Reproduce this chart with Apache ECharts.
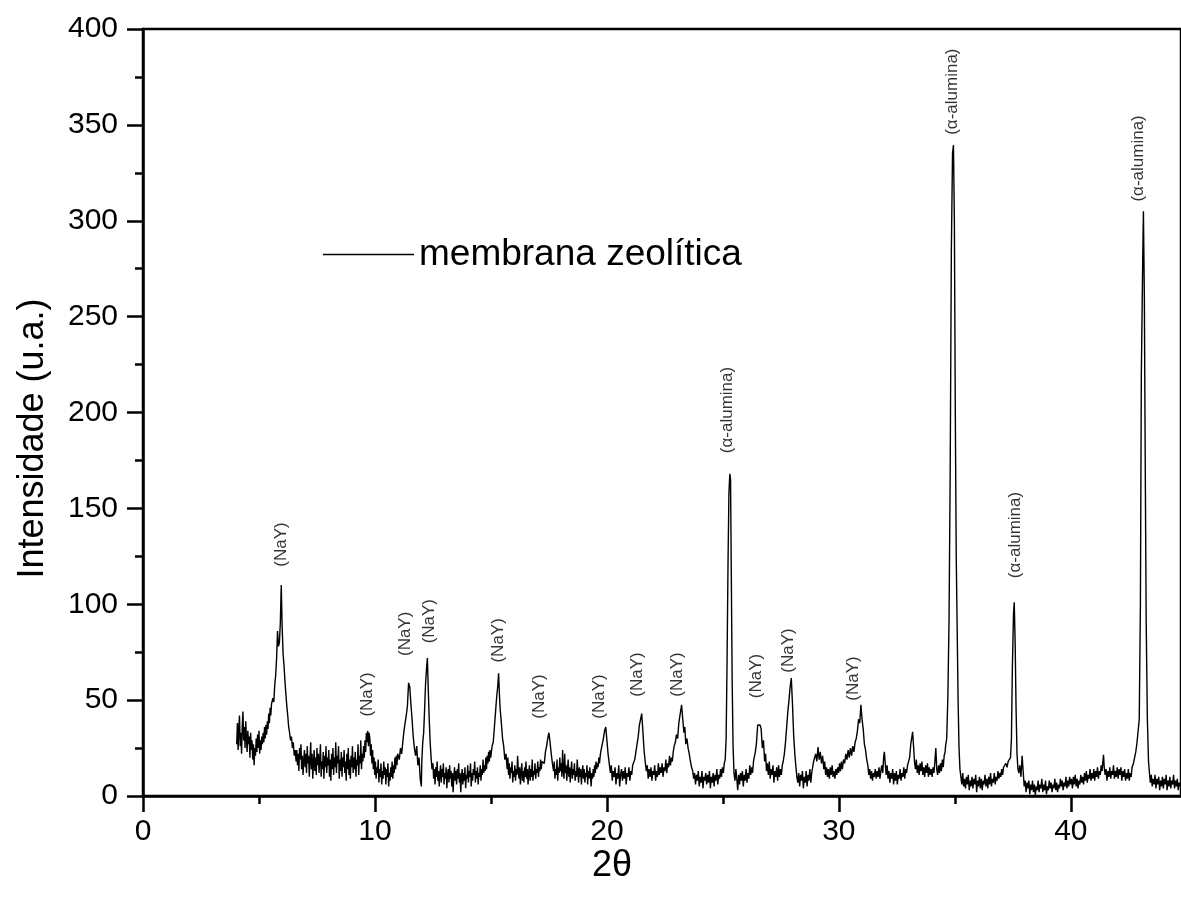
<!DOCTYPE html>
<html>
<head>
<meta charset="utf-8">
<script src="https://cdn.jsdelivr.net/npm/echarts@6/dist/echarts.min.js"></script>
<style>
html,body{margin:0;padding:0;background:#fff;}
#chart{width:1181px;height:906px;}
</style>
</head>
<body>
<div id="chart"></div>
<script>
const seriesName = 'membrana zeolítica';
const xTickValues = [0, 10, 20, 30, 40];
const xMinorTickValues = [5, 15, 25, 35];

const pattern4to12 = [
[4.04,27],[4.07,38],[4.1,24],[4.13,35],[4.16,42],[4.19,26],[4.22,33],[4.25,22],[4.28,37],[4.31,44],[4.34,29],[4.37,36],[4.4,25],[4.43,39],[4.46,30],[4.49,23],[4.52,34],[4.55,27],[4.58,31],[4.61,20],[4.64,33],[4.67,24],[4.7,29],[4.73,19],[4.76,27],[4.79,16],[4.82,25],[4.85,21],[4.88,30],[4.91,23],[4.94,32],[4.97,25],[5.0,34],[5.03,22],[5.06,29],[5.09,24],[5.12,31],[5.15,27],[5.18,33],[5.21,28],[5.24,36],[5.27,30],[5.3,37],[5.33,32],[5.36,39],[5.39,35],[5.42,43],[5.45,38],[5.48,46],[5.51,42],[5.54,48],
[5.6,51],[5.64,49],[5.68,58],[5.72,63],[5.76,72],[5.8,86],[5.84,78],[5.88,80],[5.92,90],[5.96,110],[6.0,88],[6.04,74],[6.08,68],[6.12,60],[6.16,53],[6.2,47],[6.24,42],[6.28,36],[6.32,33],[6.36,29],[6.4,31],[6.44,25],[6.48,28],[6.52,21],[6.56,24],
[6.6,18],[6.63,24],[6.66,16],[6.69,22],[6.72,13],[6.75,25],[6.78,19],[6.81,27],[6.84,14],[6.87,21],[6.9,11],[6.93,19],[6.96,24],[6.99,15],[7.02,22],[7.05,12],[7.08,26],[7.11,17],[7.14,21],[7.17,10],[7.2,19],[7.23,28],[7.26,14],[7.29,22],[7.32,9],[7.35,18],[7.38,24],[7.41,13],[7.44,20],[7.47,11],[7.5,25],[7.53,16],[7.56,22],[7.59,12],[7.62,19],[7.65,27],[7.68,10],[7.71,18],[7.74,14],[7.77,23],[7.8,9],[7.83,21],[7.86,15],[7.89,26],[7.92,12],[7.95,20],[7.98,16],[8.01,24],[8.04,10],[8.07,19],[8.1,8],[8.13,22],[8.16,14],[8.19,25],[8.22,11],[8.25,20],[8.28,15],[8.31,28],[8.34,12],[8.37,21],[8.4,17],[8.43,26],[8.46,9],[8.49,19],[8.52,13],[8.55,23],[8.58,10],[8.61,20],[8.64,15],[8.67,24],[8.7,12],[8.73,18],[8.76,8],[8.79,22],[8.82,14],[8.85,25],[8.88,11],[8.91,19],[8.94,9],[8.97,21],[9.0,15],[9.03,26],[9.06,12],[9.09,20],[9.12,14],[9.15,23],[9.18,10],[9.21,19],[9.24,16],[9.27,27],[9.3,11],[9.33,21],[9.36,17],[9.39,29],[9.42,14],[9.45,22],[9.48,18],[9.51,26],[9.54,20],[9.57,29],[9.6,23],[9.63,33],[9.66,28],[9.69,34],[9.72,26],[9.75,33],[9.78,30],[9.81,21],[9.84,27],[9.87,17],[9.9,24],[9.93,14],[9.96,20],
[9.99,11],[10.02,18],[10.05,9],[10.08,15],[10.11,12],[10.14,19],[10.17,7],[10.2,14],[10.23,10],[10.26,17],[10.29,6],[10.32,13],[10.35,9],[10.38,18],[10.41,11],[10.44,15],[10.47,6],[10.5,14],[10.53,10],[10.56,17],[10.59,5],[10.62,12],[10.65,8],[10.68,15],[10.71,10],[10.74,18],[10.77,9],[10.8,16],[10.83,12],[10.86,20],[10.89,14],[10.92,21],[10.95,16],[10.98,22],
[11.0,22],[11.05,19],[11.1,25],[11.15,22],[11.2,28],[11.25,34],[11.3,38],[11.35,42],[11.4,47],[11.45,59],[11.5,57],[11.55,48],[11.6,40],[11.65,31],[11.7,25],[11.75,21],[11.8,26],[11.85,16],[11.9,20],[11.95,9],[12.0,5],[12.02,18],[12.06,28],[12.1,33],[12.14,45],[12.18,58],[12.22,66],[12.26,72],[12.3,55],[12.34,40],[12.38,28],[12.42,20],[12.46,14]
];

const pattern12to20 = [
[12.5,17],[12.53,9],[12.56,14],[12.59,6],[12.62,15],[12.65,10],[12.68,18],[12.71,8],[12.74,13],[12.77,5],[12.8,12],[12.83,16],[12.86,7],[12.89,14],[12.92,10],[12.95,17],[12.98,6],[13.01,12],[13.04,9],[13.07,15],[13.1,4],[13.13,11],[13.16,14],[13.19,7],[13.22,16],[13.25,9],[13.28,13],[13.31,5],[13.34,12],[13.37,2],[13.4,10],[13.43,15],[13.46,8],[13.49,13],[13.52,6],[13.55,14],[13.58,9],[13.61,17],[13.64,7],[13.67,12],[13.7,2],[13.73,10],[13.76,14],[13.79,6],[13.82,12],[13.85,8],[13.88,15],[13.91,4],[13.94,11],[13.97,9],[14.0,16],[14.03,7],[14.06,13],[14.09,10],[14.12,17],[14.15,5],[14.18,12],[14.21,8],[14.24,14],[14.27,11],[14.3,18],[14.33,7],[14.36,13],[14.39,9],[14.42,15],[14.45,6],[14.48,12],[14.51,10],[14.54,16],[14.57,8],[14.6,14],[14.63,11],[14.66,19],[14.69,12],[14.72,16],[14.75,13],[14.78,20],[14.81,14],[14.84,21],[14.87,17],[14.9,23],[14.93,18],[14.96,24],[14.99,20],
[15.05,26],[15.1,28],[15.15,36],[15.2,44],[15.25,52],[15.3,58],[15.33,64],[15.37,52],[15.4,45],[15.45,38],[15.5,30],[15.55,26],[15.6,19],[15.65,22],
[15.7,14],[15.73,20],[15.76,11],[15.79,17],[15.82,9],[15.85,15],[15.88,12],[15.91,18],[15.94,7],[15.97,13],[16.0,10],[16.03,16],[16.06,8],[16.09,14],[16.12,11],[16.15,21],[16.18,13],[16.21,9],[16.24,15],[16.27,6],[16.3,12],[16.33,17],[16.36,8],[16.39,13],[16.42,7],[16.45,15],[16.48,10],[16.51,18],[16.54,9],[16.57,14],[16.6,6],[16.63,12],[16.66,16],[16.69,8],[16.72,14],[16.75,10],[16.78,19],[16.81,8],[16.84,13],[16.87,11],[16.9,17],[16.93,9],[16.96,14],[16.99,12],[17.02,18],[17.05,10],[17.08,15],[17.11,13],[17.14,19],[17.17,14],[17.2,18],
[17.25,19],[17.3,17],[17.35,23],[17.4,26],[17.45,30],[17.5,33],[17.55,28],[17.6,22],[17.65,17],
[17.7,13],[17.73,18],[17.76,9],[17.79,14],[17.82,11],[17.85,19],[17.88,8],[17.91,15],[17.94,12],[17.97,20],[18.0,13],[18.03,17],[18.06,10],[18.09,24],[18.12,14],[18.15,9],[18.18,22],[18.21,12],[18.24,16],[18.27,8],[18.3,14],[18.33,19],[18.36,10],[18.39,15],[18.42,7],[18.45,13],[18.48,18],[18.51,9],[18.54,14],[18.57,11],[18.6,17],[18.63,8],[18.66,13],[18.69,10],[18.72,19],[18.75,12],[18.78,7],[18.81,15],[18.84,10],[18.87,14],[18.9,6],[18.93,12],[18.96,16],[18.99,9],[19.02,14],[19.05,7],[19.08,12],[19.11,10],[19.14,16],[19.17,6],[19.2,13],[19.23,9],[19.26,15],[19.29,11],[19.32,5],[19.35,12],[19.38,9],[19.41,14],[19.44,10],[19.47,16],[19.5,12],[19.53,18],[19.56,14],[19.59,17],[19.62,15],[19.65,20],[19.68,17],
[19.72,22],[19.75,24],[19.8,27],[19.85,30],[19.9,34],[19.95,36],[20.0,29],[20.05,22],[20.1,17]
];

const pattern20to28 = [
[20.15,12],[20.19,16],[20.23,8],[20.27,13],[20.31,10],[20.35,15],[20.39,6],[20.43,12],[20.47,9],[20.51,16],[20.55,5],[20.59,11],[20.63,14],[20.67,8],[20.71,13],[20.75,9],[20.79,15],[20.83,6],[20.87,12],[20.91,10],[20.95,15],[20.99,8],[21.03,13],[21.07,11],[21.11,16],
[21.15,16],[21.2,19],[21.25,23],[21.3,27],[21.35,31],[21.4,37],[21.45,40],[21.5,43],[21.55,34],[21.6,24],[21.65,18],
[21.7,13],[21.74,16],[21.78,9],[21.82,14],[21.86,10],[21.9,15],[21.94,8],[21.98,13],[22.02,11],[22.06,16],[22.1,8],[22.14,13],[22.18,10],[22.22,17],[22.26,11],[22.3,15],[22.34,12],[22.38,17],[22.42,10],[22.46,15],[22.5,13],[22.54,19],[22.58,12],[22.62,17],[22.66,15],[22.7,21],[22.74,16],[22.78,20],[22.82,18],[22.86,23],
[22.9,26],[22.95,28],[23.0,32],[23.05,30],[23.1,38],[23.15,42],[23.22,47.5],[23.27,40],[23.32,33],[23.36,36],[23.4,27],[23.45,30],[23.5,25],[23.55,22],[23.6,18],[23.65,15],
[23.7,13],[23.74,9],[23.78,12],[23.82,6],[23.86,11],[23.9,8],[23.94,13],[23.98,5],[24.02,10],[24.06,7],[24.1,13],[24.14,4],[24.18,10],[24.22,8],[24.26,12],[24.3,6],[24.34,11],[24.38,7],[24.42,13],[24.46,4],[24.5,10],[24.54,7],[24.58,12],[24.62,5],[24.66,11],[24.7,8],[24.74,14],[24.78,6],[24.82,11],[24.86,9],[24.9,14],[24.94,10],[24.98,15],[25.02,12],[25.06,17],[25.1,19],
[25.14,30],[25.18,70],[25.22,120],[25.26,158],[25.3,168],[25.33,165],[25.36,120],[25.4,60],[25.44,25],[25.48,12],
[25.52,8],[25.56,14],[25.6,9],[25.64,3],[25.68,11],[25.72,6],[25.76,12],[25.8,8],[25.84,13],[25.88,5],[25.92,11],[25.96,8],[26.0,14],[26.04,7],[26.08,12],[26.12,9],[26.16,16],[26.2,11],[26.24,15],[26.28,12],[26.32,18],
[26.35,20],[26.4,23],[26.45,28],[26.5,37],[26.55,36],[26.6,37],[26.65,35],[26.7,25],[26.75,29],
[26.8,18],[26.84,22],[26.88,13],[26.92,17],[26.96,11],[27.0,18],[27.04,9],[27.08,14],[27.12,11],[27.16,16],[27.2,7],[27.24,13],[27.28,10],[27.32,15],[27.36,8],[27.4,16],[27.44,10],[27.48,14],[27.52,11],[27.56,16],[27.6,18],
[27.65,22],[27.7,28],[27.75,36],[27.8,44],[27.85,50],[27.9,57],[27.95,61.5],[28.0,48],[28.05,32],[28.1,22]
];

const pattern28to35 = [
[28.15,15],[28.19,10],[28.23,7],[28.27,12],[28.31,5],[28.35,11],[28.39,8],[28.43,13],[28.47,4],[28.51,10],[28.55,7],[28.59,13],[28.63,5],[28.67,11],[28.71,8],[28.75,14],[28.79,7],[28.83,12],[28.87,15],[28.91,18],
[28.95,19],[29.0,22],[29.05,18],[29.1,25.5],[29.15,19],[29.2,23],[29.25,17],[29.3,21],
[29.35,14],[29.39,18],[29.43,11],[29.47,15],[29.51,10],[29.55,14],[29.59,9],[29.63,15],[29.67,11],[29.71,16],[29.75,10],[29.79,13],[29.83,9],[29.87,14],[29.91,11],[29.95,15],[29.99,12],[30.03,17],[30.07,13],[30.11,18],[30.15,14],
[30.2,19],[30.25,17],[30.3,22],[30.35,19],[30.4,24],[30.45,20],[30.5,25],[30.55,21],[30.6,26],[30.65,23],[30.7,28],[30.75,30],[30.8,34],[30.85,40],[30.9,38],[30.95,47.5],[31.0,40],[31.05,35],[31.1,27],[31.15,24],[31.2,19],
[31.25,16],[31.29,11],[31.33,14],[31.37,9],[31.41,13],[31.45,8],[31.49,12],[31.53,10],[31.57,14],[31.61,9],[31.65,13],[31.69,10],[31.73,15],[31.77,9],[31.81,13],[31.85,16],[31.89,12],[31.93,20],[31.96,23],[32.0,17],[32.04,11],[32.08,16],[32.12,9],[32.16,13],[32.2,7],[32.24,12],[32.28,9],[32.32,14],[32.36,6],[32.4,12],[32.44,8],[32.48,13],[32.52,6],[32.56,11],[32.6,9],[32.64,14],[32.68,8],[32.72,12],[32.76,10],[32.8,15],[32.84,9],[32.88,14],[32.92,12],[32.96,16],[33.0,15],
[33.05,20],[33.1,27],[33.15,31],[33.18,33.5],[33.22,26],
[33.26,18],[33.3,14],[33.34,19],[33.38,12],[33.42,16],[33.46,11],[33.5,17],[33.54,13],[33.58,18],[33.62,11],[33.66,15],[33.7,10],[33.74,16],[33.78,12],[33.82,17],[33.86,10],[33.9,15],[33.94,11],[33.98,14],[34.02,10],[34.06,15],[34.1,12],[34.14,18],[34.18,25],[34.22,14],[34.26,11],[34.3,16],[34.34,12],[34.38,17],[34.42,13],[34.46,19],[34.5,15],[34.54,21],[34.58,23],
[34.6,26],[34.65,30],[34.7,52],[34.75,92],[34.8,170],[34.85,285],[34.9,335],[34.94,339.5],[34.98,300],[35.02,200],[35.06,125],[35.1,88],[35.14,50],[35.18,25],[35.22,14]
];

const pattern35to45 = [
[35.26,10],[35.3,6],[35.34,12],[35.38,5],[35.42,9],[35.46,4],[35.5,10],[35.54,6],[35.58,11],[35.62,3],[35.66,8],[35.7,5],[35.74,10],[35.78,4],[35.82,9],[35.86,6],[35.9,11],[35.94,2],[35.98,8],[36.02,5],[36.06,10],[36.1,4],[36.14,9],[36.18,3],[36.22,8],[36.26,6],[36.3,11],[36.34,5],[36.38,9],[36.42,4],[36.46,10],[36.5,6],[36.54,12],[36.58,5],[36.62,9],[36.66,7],[36.7,12],[36.74,6],[36.78,10],[36.82,8],[36.86,13],[36.9,9],[36.94,12],[36.98,10],[37.02,14],[37.06,11],[37.1,15],
[37.15,16],[37.2,17],[37.25,15],[37.3,18],[37.35,17],[37.4,20],[37.44,30],[37.48,67],[37.5,78],[37.53,95],[37.56,101],[37.6,80],[37.64,45],[37.68,22],[37.72,14],[37.76,12],[37.8,16],[37.85,10],[37.9,21],
[37.95,12],[37.99,5],[38.03,8],[38.07,2],[38.11,7],[38.15,4],[38.19,8],[38.23,1],[38.27,6],[38.31,3],[38.35,8],[38.39,2],[38.43,6],[38.47,0.5],[38.51,5],[38.55,3],[38.59,8],[38.63,2],[38.67,6],[38.71,4],[38.75,9],[38.79,2],[38.83,6],[38.87,3],[38.91,8],[38.95,1],[38.99,5],[39.03,3],[39.07,8],[39.11,4],[39.15,7],[39.19,2],[39.23,6],[39.27,4],[39.31,9],[39.35,3],[39.39,7],[39.43,2],[39.47,6],[39.51,4],[39.55,9],[39.59,5],[39.63,8],[39.67,3],[39.71,7],[39.75,5],[39.79,10],[39.83,4],[39.87,8],[39.91,5],[39.95,10],[39.99,6],[40.03,9],[40.07,4],[40.11,10],[40.15,6],[40.19,11],[40.23,5],[40.27,9],[40.31,4],[40.35,8],[40.39,6],[40.43,11],[40.47,7],[40.51,10],[40.55,6],[40.59,12],[40.63,8],[40.67,13],[40.71,7],[40.75,11],[40.79,9],[40.83,14],[40.87,8],[40.91,12],[40.95,9],[40.99,14],[41.03,8],[41.07,13],[41.11,10],[41.15,15],[41.19,9],[41.23,13],[41.27,11],[41.31,16],[41.35,13],[41.38,18],[41.41,21.5],[41.44,15],[41.48,11],[41.52,14],[41.56,8],[41.6,13],[41.64,10],[41.68,15],[41.72,9],[41.76,13],[41.8,11],[41.84,16],[41.88,9],[41.92,13],[41.96,10],[42.0,15],[42.04,9],[42.08,14],[42.12,11],[42.16,15],[42.2,8],[42.24,13],[42.28,10],[42.32,14],[42.36,8],[42.4,12],[42.44,9],[42.48,14],[42.52,8],[42.56,12],[42.6,10],[42.64,15],
[42.7,17],[42.75,20],[42.8,23],[42.85,27.5],[42.9,28],[42.95,40],[43.0,100],[43.04,220],[43.07,250],[43.1,280],[43.13,305],[43.17,260],[43.21,170],[43.25,90],[43.3,40],
[43.35,18],[43.39,12],[43.43,7],[43.47,11],[43.51,5],[43.55,9],[43.59,6],[43.63,11],[43.67,4],[43.71,9],[43.75,6],[43.79,10],[43.83,3],[43.87,8],[43.91,5],[43.95,10],[43.99,4],[44.03,9],[44.07,6],[44.11,11],[44.15,3],[44.19,8],[44.23,5],[44.27,10],[44.31,4],[44.35,8],[44.39,6],[44.43,11],[44.47,4],[44.51,8],[44.55,5],[44.59,9],[44.63,3],[44.67,7],[44.71,5]
];

const peakLabelX = [5.96, 9.66, 11.29, 12.33, 15.3, 17.09, 19.68, 21.33, 23.03, 25.2, 26.44, 27.82, 30.62, 34.9, 37.6, 42.92];
const peakLabelY = [119.6, 41.4, 73, 79.6, 69.6, 40.3, 40.3, 51.8, 51.8, 178.8, 51, 64.3, 49.7, 344.8, 113.6, 310];
const peakLabelText = ['(NaY)','(NaY)','(NaY)','(NaY)','(NaY)','(NaY)','(NaY)','(NaY)','(NaY)','(α-alumina)','(NaY)','(NaY)','(NaY)','(α-alumina)','(α-alumina)','(α-alumina)'];

const pattern = pattern4to12.concat(pattern12to20, pattern20to28, pattern28to35, pattern35to45);
const peakLabels = peakLabelX.map((x, i) => [x, peakLabelY[i], peakLabelText[i]]);

const FONT = '"Liberation Sans", Arial, Helvetica, sans-serif';
const chart = echarts.init(document.getElementById('chart'), null, {renderer: 'canvas'});
chart.setOption({
  animation: false,
  backgroundColor: '#ffffff',
  textStyle: {fontFamily: FONT, color: '#000'},
  grid: {left: 143, top: 29, right: -4, bottom: 110, show: true, borderColor: '#000', borderWidth: 2.5, backgroundColor: 'transparent'},
  legend: {
    data: [{name: seriesName, icon: 'rect'}], left: 323, top: 236, padding: 0, itemWidth: 91, itemHeight: 1.3,
    itemStyle: {color: '#000', borderWidth: 0},
    textStyle: {fontSize: 37, color: '#000', fontFamily: FONT}
  },
  xAxis: [{
    type: 'value', min: 0, max: 44.75, position: 'bottom',
    axisLine: {show: true, onZero: false, lineStyle: {color: '#000', width: 2.5}},
    axisTick: {show: true, customValues: xTickValues, length: 16, lineStyle: {color: '#000', width: 2.5}},
    axisLabel: {customValues: xTickValues, fontSize: 30, color: '#000', margin: 21, fontFamily: FONT},
    splitLine: {show: false},
    name: '2θ', nameLocation: 'middle', nameGap: 52, nameMoveOverlap: false,
    nameTextStyle: {fontSize: 36, color: '#000', fontFamily: FONT, padding: [0, 100, 0, 0]}
  }, {
    type: 'value', min: 0, max: 44.75, position: 'bottom',
    axisLine: {show: false, onZero: false},
    axisTick: {show: true, customValues: xMinorTickValues, length: 8, lineStyle: {color: '#000', width: 2.5}},
    axisLabel: {show: false},
    splitLine: {show: false}
  }],
  yAxis: {
    type: 'value', min: 0, max: 400, interval: 50,
    axisLine: {show: true, onZero: false, lineStyle: {color: '#000', width: 2.5}},
    axisTick: {show: true, length: 16, lineStyle: {color: '#000', width: 2.5}},
    minorTick: {show: true, splitNumber: 2, length: 8, lineStyle: {color: '#000', width: 2.5}},
    axisLabel: {fontSize: 30, color: '#000', margin: 25, fontFamily: FONT},
    splitLine: {show: false}, minorSplitLine: {show: false},
    name: 'Intensidade (u.a.)', nameLocation: 'middle', nameGap: 92,
    nameTextStyle: {fontSize: 36, color: '#000', fontFamily: FONT, padding: [0, 52, 0, 0]}
  },
  series: [{
    name: seriesName, type: 'line', data: pattern, symbol: 'none',
    xAxisIndex: 0, yAxisIndex: 0,
    lineStyle: {color: '#000', width: 1.4}, itemStyle: {color: '#000'}
  }, {
    type: 'scatter', data: peakLabels, symbolSize: 0, silent: true,
    xAxisIndex: 0, yAxisIndex: 0,
    label: {
      show: true, position: 'inside', rotate: 90, align: 'left', verticalAlign: 'middle',
      fontSize: 17, color: '#000', fontFamily: FONT,
      formatter: p => p.value[2]
    }
  }]
});
</script>
</body>
</html>
